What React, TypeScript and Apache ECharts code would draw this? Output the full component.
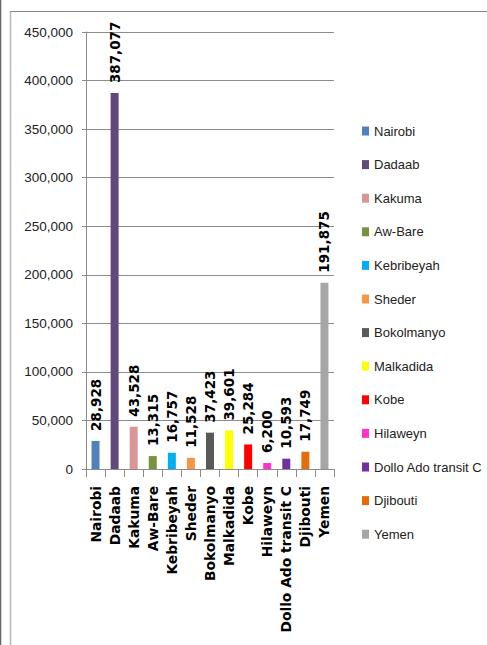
import React, { useEffect, useRef } from "react";
import * as echarts from "echarts";

const categories = [
  "Nairobi",
  "Dadaab",
  "Kakuma",
  "Aw-Bare",
  "Kebribeyah",
  "Sheder",
  "Bokolmanyo",
  "Malkadida",
  "Kobe",
  "Hilaweyn",
  "Dollo Ado transit C",
  "Djibouti",
  "Yemen",
];

const values = [28928, 387077, 43528, 13315, 16757, 11528, 37423, 39601, 25284, 6200, 10593, 17749, 191875];

const colors = [
  "#4F81BD",
  "#604A7B",
  "#D99694",
  "#77933C",
  "#00B0F0",
  "#F79646",
  "#595959",
  "#FFFF00",
  "#FF0000",
  "#FF33CC",
  "#7030A0",
  "#E46C0A",
  "#A6A6A6",
];

const yTicks = { min: 0, max: 450000, interval: 50000 };

const fmt = (v: number) => v.toLocaleString("en-US");

export default function App() {
  const ref = useRef<HTMLDivElement>(null);

  useEffect(() => {
    if (!ref.current) return;
    const chart = echarts.init(ref.current, null, { renderer: "svg" });

    const series = categories.map((name, i) => ({
      name,
      type: "bar",
      stack: "all",
      barWidth: 8,
      itemStyle: { color: colors[i] },
      data: categories.map((_, j) => (j === i ? values[i] : "-")),
      label: {
        show: true,
        position: "top",
        rotate: 90,
        align: "left",
        verticalAlign: "middle",
        distance: 10,
        fontFamily: "DejaVu Sans",
        fontWeight: "bold",
        fontSize: 13.5,
        color: "#000",
        formatter: (p: any) => fmt(p.value),
      },
    }));

    chart.setOption({
      animation: false,
      backgroundColor: "#fff",
      grid: { left: 86, right: 153, top: 32, bottom: 176, containLabel: false },
      legend: {
        orient: "vertical",
        left: 357,
        top: 119,
        icon: "rect",
        itemWidth: 7,
        itemHeight: 9,
        itemGap: 19.6,
        data: categories,
        textStyle: {
          fontFamily: "Liberation Sans",
          fontSize: 13,
          lineHeight: 14,
          color: "#222",
        },
      },
      xAxis: {
        type: "category",
        data: categories,
        axisLine: { show: true, lineStyle: { color: "#8c8c8c", width: 1 } },
        axisTick: { show: true, length: 8, lineStyle: { color: "#8c8c8c" } },
        axisLabel: {
          rotate: 90,
          interval: 0,
          margin: 17,
          fontFamily: "DejaVu Sans",
          fontWeight: "bold",
          fontSize: 13.8,
          color: "#000",
        },
      },
      yAxis: {
        type: "value",
        min: yTicks.min,
        max: yTicks.max,
        interval: yTicks.interval,
        axisLine: { show: true, lineStyle: { color: "#8c8c8c", width: 1 } },
        axisTick: { show: true, length: 4, lineStyle: { color: "#8c8c8c" } },
        splitLine: { show: true, lineStyle: { color: "#8c8c8c", width: 1 } },
        axisLabel: {
          margin: 13,
          fontFamily: "Liberation Sans",
          fontSize: 13.5,
          color: "#222",
          formatter: (v: number) => fmt(v),
        },
      },
      graphic: [
        {
          type: "line",
          shape: { x1: 0.5, y1: 0, x2: 0.5, y2: 645 },
          style: { stroke: "#666", lineWidth: 1.5 },
        },
        {
          type: "line",
          shape: { x1: 10.5, y1: 11, x2: 10.5, y2: 645 },
          style: { stroke: "#b8b8b8", lineWidth: 1.5 },
        },
        {
          type: "line",
          shape: { x1: 10, y1: 11.5, x2: 487, y2: 11.5 },
          style: { stroke: "#888", lineWidth: 1 },
        },
      ],
      series,
    });

    return () => chart.dispose();
  }, []);

  return (
    <div
      ref={ref}
      style={{ position: "fixed", left: 0, top: 0, width: 487, height: 645 }}
    />
  );
}
